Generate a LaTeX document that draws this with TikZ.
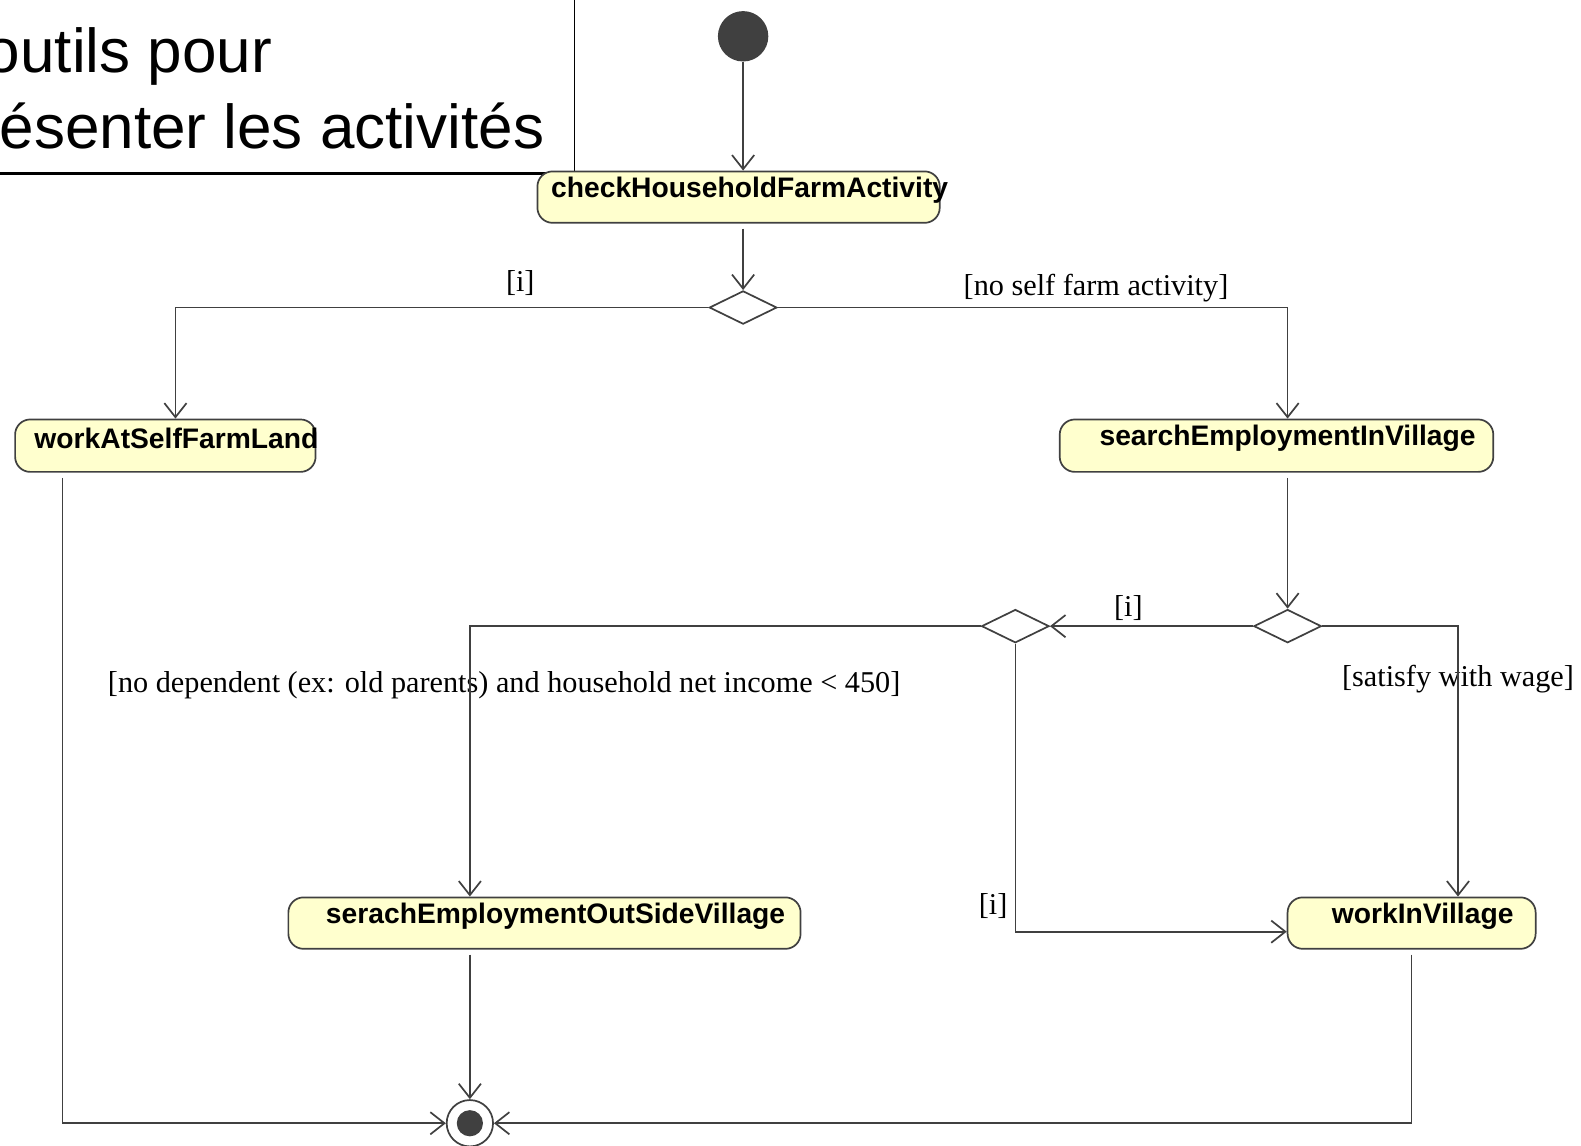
\documentclass[tikz,border=0pt]{standalone}
\usepackage{fontspec}
\setmainfont{Liberation Serif}
\setsansfont{Liberation Sans}
\usetikzlibrary{arrows.meta,shapes.geometric}
\definecolor{actyellow}{RGB}{255,255,206}
\definecolor{umlgray}{RGB}{64,64,64}
\tikzset{
  act/.style={draw=umlgray, fill=actyellow, rounded corners=15pt, line width=1.7pt, inner sep=0pt},
  actname/.style={font=\sffamily\bfseries\fontsize{28}{30}\selectfont, inner sep=0pt, xshift=11pt, yshift=7pt},
  dec/.style={draw=umlgray, fill=white, diamond, minimum width=67pt, minimum height=33pt, inner sep=0pt, line width=1.7pt},
  flow/.style={draw=umlgray, line width=1.7pt, -{Straight Barb[length=14pt,width=22pt]}},
  guard/.style={font=\fontsize{30}{32}\selectfont, inner sep=0pt}
}
\begin{document}
\begin{tikzpicture}[x=1pt, y=-1pt]
    \useasboundingbox (0,0) rectangle (1568,1136);
    % note in the corner
    \draw[line width=1.5pt] (570,-2) -- (570,172);
    \draw[line width=2.5pt] (-2,172) -- (571,172);
    \node[font=\sffamily\fontsize{61.5}{75}\selectfont, anchor=base east, inner sep=0pt] (title1) at (270,72) {outils pour};
    \node[font=\sffamily\fontsize{61.5}{75}\selectfont, anchor=base east, inner sep=0pt] (title2) at (540,147) {ésenter les activités};
    % start and end
    \node[circle, fill=umlgray, minimum size=50pt, inner sep=0pt] (init) at (737,36) {};
    \node[circle, draw=umlgray, fill=white, line width=1.7pt, minimum size=46pt, inner sep=0pt] (final) at (466,1114) {};
    \node[circle, fill=umlgray, minimum size=26pt, inner sep=0pt] (finaldot) at (final) {};
    % activities
    \node[act, minimum width=399pt, minimum height=51pt, label={[actname]center:checkHouseholdFarmActivity}] (check) at (732.5,195.5) {};
    \node[act, minimum width=298pt, minimum height=52pt, label={[actname]center:workAtSelfFarmLand}] (workself) at (164,442) {};
    \node[act, minimum width=430pt, minimum height=52pt, label={[actname]center:searchEmploymentInVillage}] (search) at (1266,442) {};
    \node[act, minimum width=508pt, minimum height=51pt, label={[actname]center:serachEmploymentOutSideVillage}] (serach) at (540,915.5) {};
    \node[act, minimum width=246pt, minimum height=51pt, label={[actname]center:workInVillage}] (workin) at (1400,915.5) {};
    % decisions
    \node[dec] (d1) at (737,305) {};
    \node[dec] (d2) at (1277,621) {};
    \node[dec] (d3) at (1007,621) {};
    % guards
    \node[guard] (g1) at (516,281) {[i]};
    \node[guard] (g2) at (1087,286) {[no self farm activity]};
    \node[guard] (g3) at (1119,603) {[i]};
    \node[guard] (g4) at (1446,674) {[satisfy with wage]};
    \node[guard] (g5) at (500,680) {[no dependent (ex: old parents) and household net income < 450]};
    \node[guard] (g6) at (985,899) {[i]};
    % flows
    \draw[flow] (init) -- (init |- check.north);
    \draw[flow, shorten <=5pt] (d1 |- check.south) -- (d1);
    \draw[flow] (d1.west) -| ([xshift=10pt]workself.north);
    \draw[flow] (d1.east) -| ([xshift=11pt]search.north);
    \draw[flow, shorten <=5pt] ([xshift=11pt]search.south) -- (d2);
    \draw[flow] (d2) -- (d3);
    \draw[flow] (d2.east) -| ([xshift=46pt]workin.north);
    \draw[flow] (d3.west) -| ([xshift=-74pt]serach.north);
    \draw[flow] (d3.south) |- ([yshift=-8.5pt]workin.west);
    \draw[flow, shorten <=5pt] ([xshift=-102pt]workself.south) |- (final);
    \draw[flow, shorten <=5pt] ([xshift=-74pt]serach.south) -- (final);
    \draw[flow, shorten <=5pt] (workin.south) |- (final);
\end{tikzpicture}
\end{document}
